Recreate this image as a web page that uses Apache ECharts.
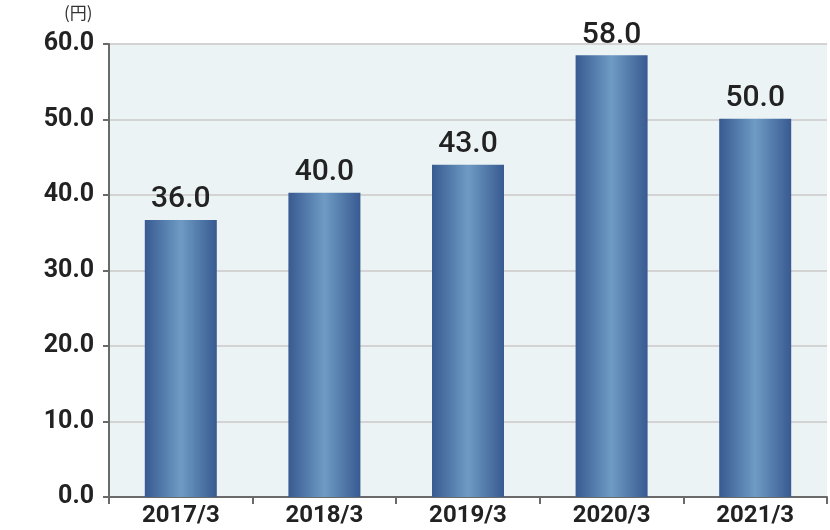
<!DOCTYPE html>
<html><head><meta charset="utf-8">
<script src="https://cdn.jsdelivr.net/npm/echarts@6/dist/echarts.min.js"></script>
<style>html,body{margin:0;padding:0;background:#fff}#c{width:830px;height:530px}</style>
</head><body><div id="c"></div>
<script>
var categories = ['2017/3', '2018/3', '2019/3', '2020/3', '2021/3'];
var barHeights = [36.7, 40.3, 44.0, 58.5, 50.1];
var barLabels = ['36.0', '40.0', '43.0', '58.0', '50.0'];
var yTicks = [0, 10, 20, 30, 40, 50, 60];
var unitLabel = '(円)';

var chart = echarts.init(document.getElementById('c'));
chart.setOption({
  animation: false,
  grid: {left: 109, right: 3, top: 44, bottom: 33, show: true, backgroundColor: '#ebf3f5', borderWidth: 0},
  graphic: [{type: 'text', left: 64, top: 4, style: {text: unitLabel, font: '17px "Noto Sans CJK JP"', fill: '#333'}}],
  xAxis: {
    type: 'category', data: categories,
    axisLine: {lineStyle: {color: '#6a6a6a', width: 2}},
    axisTick: {show: true, length: 7, lineStyle: {color: '#6a6a6a', width: 2}},
    axisLabel: {color: '#222', fontFamily: 'Roboto', fontWeight: 'bold', fontSize: 24, margin: 7}
  },
  yAxis: {
    type: 'value', min: yTicks[0], max: yTicks[yTicks.length - 1], interval: 10,
    axisLine: {show: true, lineStyle: {color: '#6a6a6a', width: 2}},
    axisTick: {show: true, length: 6, lineStyle: {color: '#6a6a6a', width: 2}},
    splitLine: {lineStyle: {color: '#d3d3d3', width: 2}},
    axisLabel: {color: '#222', fontFamily: 'Roboto', fontWeight: 'bold', fontSize: 25, margin: 15,
      formatter: function (v) { return v.toFixed(1); }}
  },
  series: [{
    type: 'bar', data: barHeights, barWidth: 72,
    itemStyle: {color: new echarts.graphic.LinearGradient(0, 0, 1, 0, [
      {offset: 0, color: '#385a91'}, {offset: 0.5, color: '#6e9bc4'}, {offset: 1, color: '#385a91'}])},
    label: {show: true, position: 'top', distance: 5, color: '#222', fontFamily: 'Roboto', fontWeight: 500, fontSize: 30,
      formatter: function (p) { return barLabels[p.dataIndex]; }}
  }]
});
</script></body></html>
